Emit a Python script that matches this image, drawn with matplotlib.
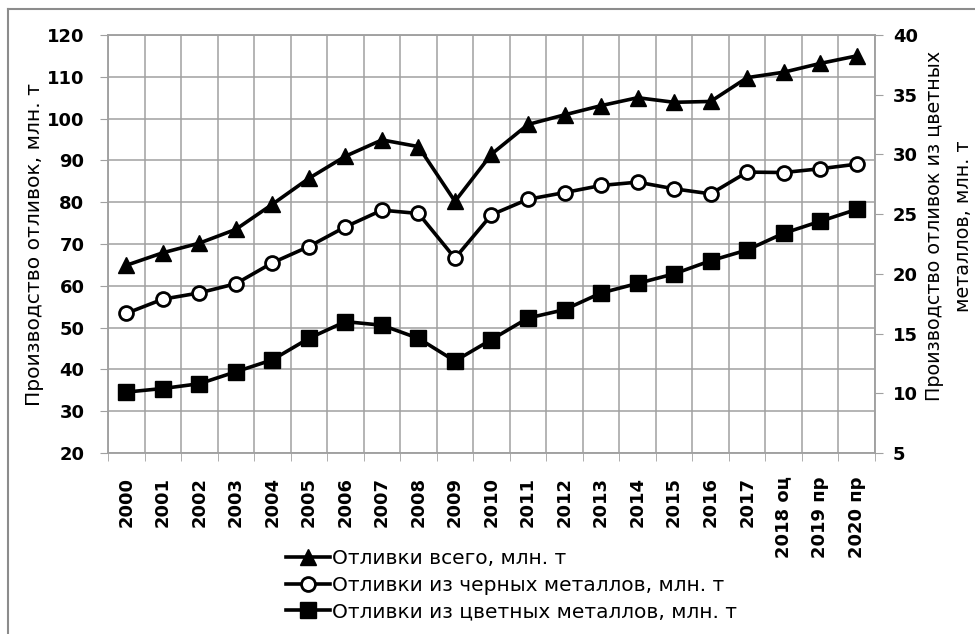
import matplotlib
matplotlib.use("Agg")
import matplotlib.pyplot as plt
from matplotlib.lines import Line2D
from matplotlib.ticker import MultipleLocator
import numpy as np

#====== данные =====================
years = ['2000', '2001', '2002', '2003', '2004', '2005', '2006', '2007', '2008', '2009',
         '2010', '2011', '2012', '2013', '2014', '2015', '2016', '2017',
         '2018 оц', '2019 пр', '2020 пр']
total = [64.9, 67.9, 70.2, 73.5, 79.5, 85.7, 91.0, 94.9, 93.3, 80.2,
         91.5, 98.6, 100.9, 103.1, 105.0, 103.9, 104.1, 109.8, 111.1, 113.2, 115.0]
ferrous = [53.4, 56.8, 58.3, 60.5, 65.5, 69.4, 74.1, 78.1, 77.3, 66.6,
           77.0, 80.7, 82.3, 84.0, 84.8, 83.2, 82.0, 87.2, 87.1, 88.0, 89.1]
nonferrous = [10.1, 10.4, 10.8, 11.8, 12.8, 14.6, 16.0, 15.7, 14.6, 12.7,
              14.5, 16.3, 17.0, 18.4, 19.2, 20.0, 21.1, 22.0, 23.4, 24.4, 25.4]

lab_total = 'Отливки всего, млн. т'
lab_ferrous = 'Отливки из черных металлов, млн. т'
lab_nonferrous = 'Отливки из цветных металлов, млн. т'

plt.rcParams['font.family'] = ['DejaVu Sans']
grid_c = '#a0a0a0'

#====== фигура =====================
W, H = 975, 634
fig = plt.figure(figsize=(W / 100, H / 100), dpi=100)
fig.patch.set_facecolor('white')
x0, x1, y0, y1 = 108, 875, 35, 453
ax = fig.add_axes([x0 / W, 1 - y1 / H, (x1 - x0) / W, (y1 - y0) / H])
ax2 = ax.twinx()

x = np.arange(len(years))
l1, = ax.plot(x, total, color='black', lw=2.6, marker='^', ms=11.5,
              mfc='black', mec='black', label=lab_total)
l2, = ax.plot(x, ferrous, color='black', lw=2.6, marker='o', ms=10,
              mfc='white', mec='black', mew=2, label=lab_ferrous)
l3, = ax2.plot(x, nonferrous, color='black', lw=2.6, marker='s', ms=11,
               mfc='black', mec='black', label=lab_nonferrous)

ax.set_xlim(-0.5, len(years) - 0.5)
ax.set_ylim(20, 120)
ax2.set_ylim(5, 40)
ax.yaxis.set_major_locator(MultipleLocator(10))
ax2.yaxis.set_major_locator(MultipleLocator(5))

ax.set_xticks(x)
ax.set_xticklabels(years, rotation=90, fontsize=13, fontweight='bold')
ax.set_xticks(np.arange(-0.5, len(years), 1), minor=True)
ax.tick_params(axis='x', which='major', length=0, pad=17)
ax.tick_params(axis='x', which='minor', length=6, color=grid_c, direction='out')
ax.grid(True, axis='x', which='minor', color=grid_c, lw=1.1)
ax.grid(True, axis='y', which='major', color=grid_c, lw=1.1)
ax.set_axisbelow(True)

ax.tick_params(axis='y', length=6, color=grid_c, pad=11, labelsize=13)
ax2.tick_params(axis='y', length=6, color=grid_c, pad=7, labelsize=13)
for t in ax.get_yticklabels() + ax2.get_yticklabels():
    t.set_fontweight('bold')
for a in (ax, ax2):
    for s in a.spines.values():
        s.set_color(grid_c)
        s.set_linewidth(1.1)

#====== подписи осей ================
fig.text(35 / W, 1 - 244 / H, 'Производство отливок, млн. т', rotation=90,
         ha='center', va='center', fontsize=14.6)
fig.text(949 / W, 1 - 226 / H, 'Производство отливок из цветных\nметаллов, млн. т',
         rotation=90, ha='center', va='center', fontsize=13.8,
         multialignment='center', linespacing=1.7)

#====== легенда =====================
fig.legend(handles=[l1, l2, l3], loc='upper left',
           bbox_to_anchor=(286 / W, 1 - 549 / H), frameon=False, fontsize=14.5,
           handlelength=2.2, handletextpad=0.1, labelspacing=0.38,
           borderaxespad=0, borderpad=0)

#====== рамка =======================
fig.add_artist(Line2D([8 / W, 8 / W], [0, 1 - 9 / H], color='#8c8c8c', lw=1.5))
fig.add_artist(Line2D([8 / W, 1], [1 - 9 / H, 1 - 9 / H], color='#8c8c8c', lw=1.5))

fig.savefig('out.png', dpi=100)
